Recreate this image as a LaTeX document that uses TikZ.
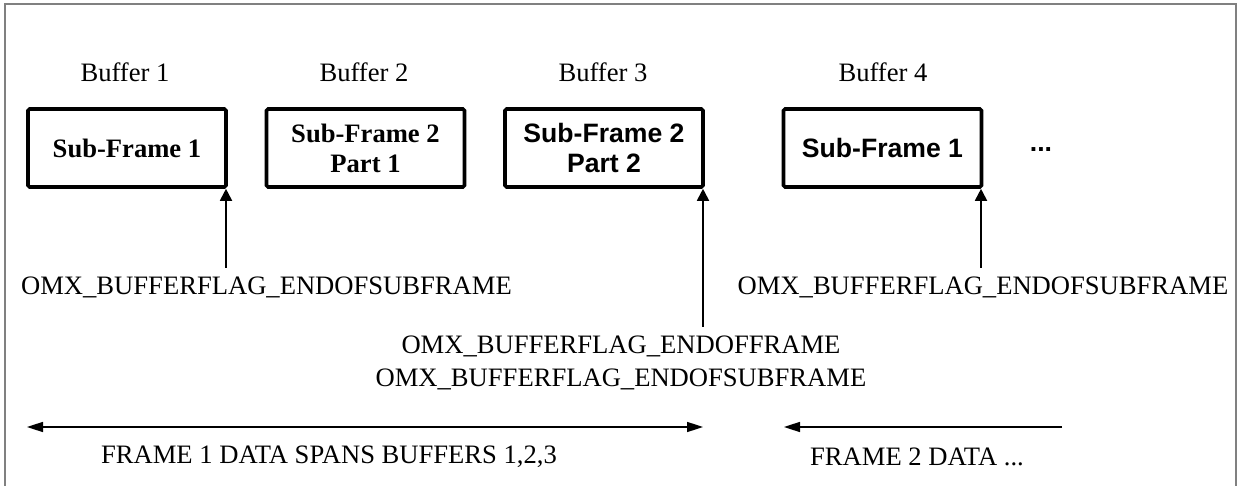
\documentclass[tikz,border=0pt]{standalone}
\usepackage{fontspec}
\setmainfont{Liberation Serif}
\setsansfont{Liberation Sans}
\usetikzlibrary{arrows.meta}

\begin{document}
\begin{tikzpicture}[x=0.5pt,y=-0.5pt,
	every node/.style={font=\fontsize{13.3}{15}\selectfont},
	subframe/.style={draw,line width=1.8pt,rounded corners=0.8pt,minimum width=99pt,minimum height=39pt,inner sep=0pt,align=center},
	flag/.style={-{Triangle[length=6pt,width=6pt]},line width=0.9pt},
	span/.style={line width=0.8pt}]
		\useasboundingbox (0,0) rectangle (1243,486);
		\draw[gray,line width=1pt] (5,486) -- (5,4) -- (1236,4) -- (1236,486);
		% buffers
		\node (b1) at (125,72) {Buffer 1};
		\node (b2) at (364,72) {Buffer 2};
		\node (b3) at (603,72) {Buffer 3};
		\node (b4) at (883,72) {Buffer 4};
		\node[subframe,font=\fontsize{13.3}{15}\selectfont\bfseries] (sf1) at (127,148) {Sub-Frame 1};
		\node[subframe,font=\fontsize{13.3}{15}\selectfont\bfseries] (sf2) at (365.5,148) {Sub-Frame 2\\Part 1};
		\node[subframe,font=\fontsize{13.3}{15}\selectfont\sffamily\bfseries] (sf3) at (604,148) {Sub-Frame 2\\Part 2};
		\node[subframe,font=\fontsize{13.3}{15}\selectfont\sffamily\bfseries] (sf4) at (882.5,148) {Sub-Frame 1};
		\node[font=\fontsize{13.3}{15}\selectfont\sffamily\bfseries] (more) at (1041,150) {...};
		% flags
		\node (l1) at (266.5,287) {OMX\_BUFFERFLAG\_ENDOFSUBFRAME};
		\node[align=center,font=\fontsize{13.3}{16.5}\selectfont] (l3) at (621,363) {OMX\_BUFFERFLAG\_ENDOFFRAME\\OMX\_BUFFERFLAG\_ENDOFSUBFRAME};
		\node (l4) at (983,287) {OMX\_BUFFERFLAG\_ENDOFSUBFRAME};
		\coordinate (t1) at (226,268);
		\coordinate (t3) at (703,327);
		\coordinate (t4) at (981,268);
		\draw[flag] (t1) -- (t1 |- sf1.south);
		\draw[flag] (t3) -- (t3 |- sf3.south);
		\draw[flag] (t4) -- (t4 |- sf4.south);
		% frames
		\coordinate (s1) at (27,427);
		\coordinate (e1) at (703,427);
		\coordinate (s2) at (1062,427);
		\coordinate (e2) at (784,427);
		\draw[span,{Triangle[length=8pt,width=5pt]}-{Triangle[length=8pt,width=5pt]}] (s1) -- (e1);
		\draw[span,-{Triangle[length=8pt,width=5pt]}] (s2) -- (e2);
		\node (f1) at (329,457) {FRAME 1 DATA SPANS BUFFERS 1,2,3};
		\node (f2) at (917,457) {FRAME 2 DATA ...};
\end{tikzpicture}
\end{document}
